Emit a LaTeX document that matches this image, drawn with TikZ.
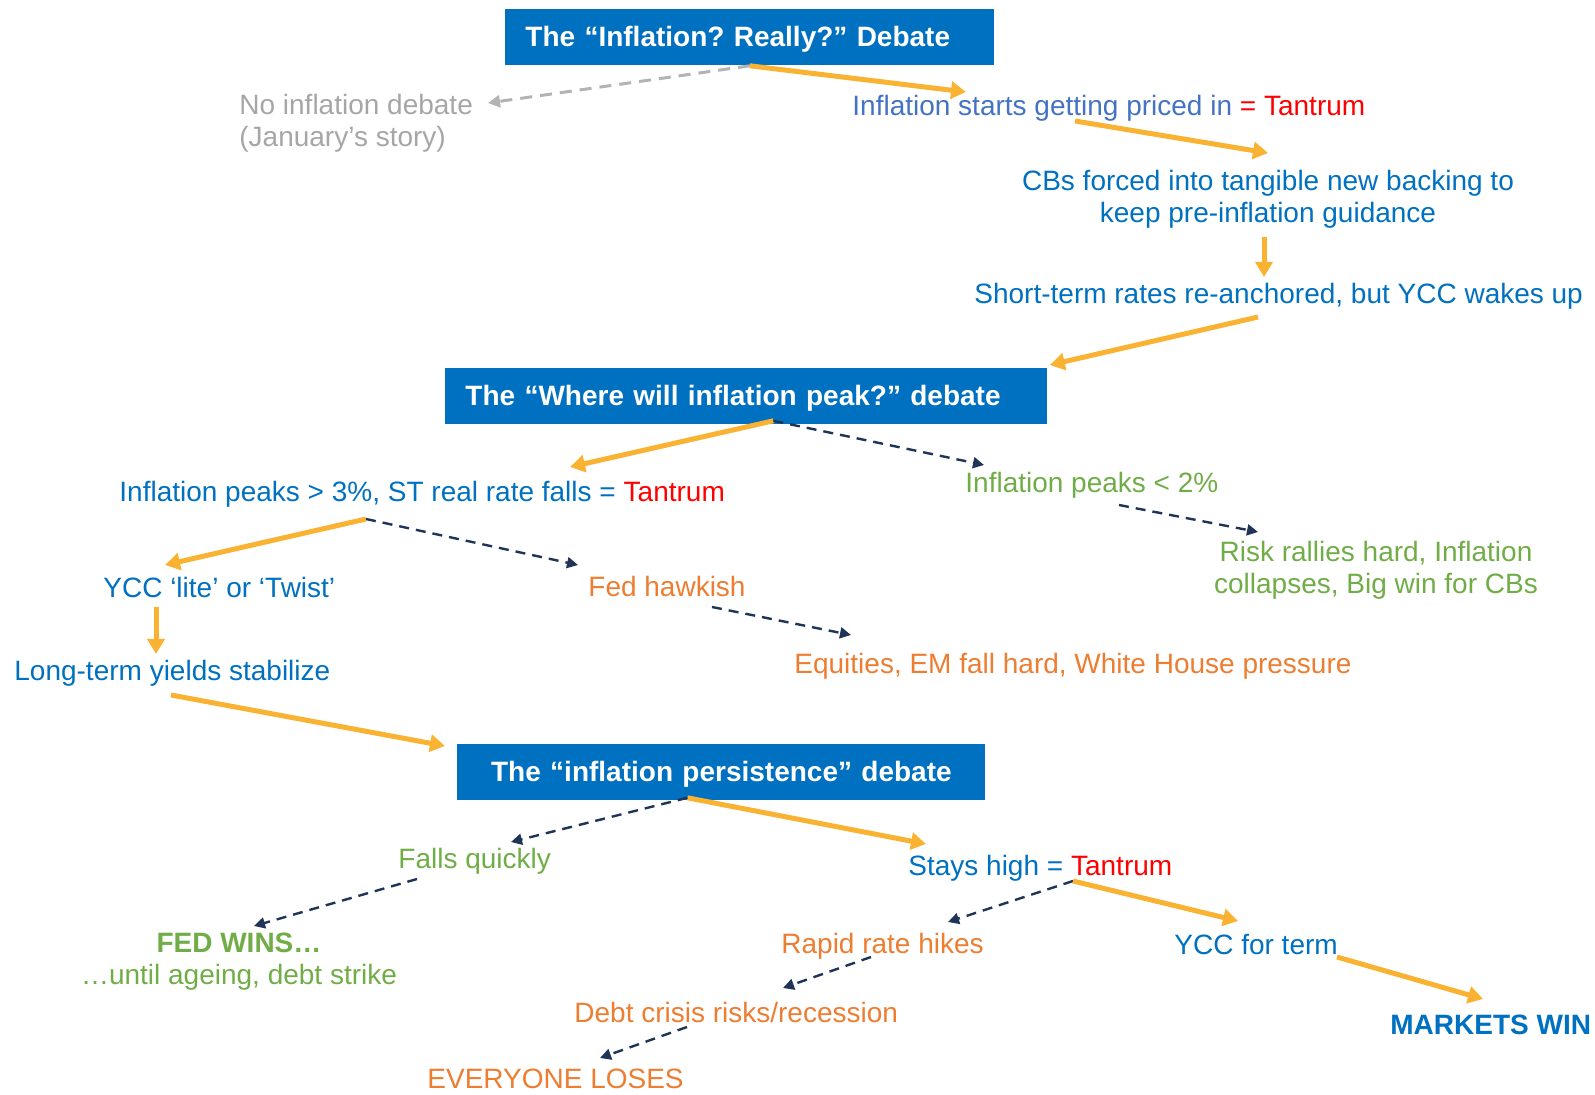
\documentclass[tikz,border=0pt]{standalone}
\usepackage{fontspec}
\setmainfont{Liberation Sans}
\usetikzlibrary{arrows.meta, calc, positioning}
\definecolor{boxblue}{RGB}{0,112,192}
\definecolor{txtblue}{RGB}{0,112,192}
\definecolor{softblue}{RGB}{68,114,196}
\definecolor{tantrumred}{RGB}{255,0,0}
\definecolor{okgreen}{RGB}{112,173,71}
\definecolor{badorange}{RGB}{237,125,49}
\definecolor{oldgray}{RGB}{166,166,166}
\definecolor{gogold}{RGB}{250,178,50}
\definecolor{darknavy}{RGB}{32,52,88}
\newcommand{\tantrum}{\textcolor{tantrumred}{Tantrum}}
\frenchspacing

\begin{document}
\frenchspacing
\begin{tikzpicture}[line join=round, x=0.5pt, y=-0.5pt,
  font=\fontsize{14}{16}\selectfont,
  every node/.style={inner sep=0pt, text=txtblue},
  lbl/.style={anchor=west, text height=13pt, text depth=3pt},
  debate/.style={fill=boxblue, text=white, font=\fontsize{14}{16}\selectfont\bfseries,
    minimum height=28pt, inner xsep=10pt, inner ysep=0pt, align=left, anchor=north west,
    text height=12pt, text depth=2.7pt},
  gohard/.style={draw=gogold, line width=2.5pt, -{Triangle[length=7.5pt,width=8.5pt]}},
  maybe/.style={draw=darknavy, line width=1.2pt, dash pattern=on 5pt off 3.5pt,
    -{Triangle[length=5.5pt,width=5.5pt]}},
  stale/.style={draw=oldgray!85, line width=1.5pt, dash pattern=on 6pt off 4pt,
    -{Triangle[length=6pt,width=6pt]}}]
\useasboundingbox (0,0) rectangle (1595,1095);

% first debate
\node[debate, text width=224.5pt] (box1) at (505,9) {The “Inflation? Really?” Debate};
\node[anchor=west, align=left, text=oldgray] (noinf) at (239,123) {No inflation debate\\(January’s story)};
\node[lbl] (priced) at (852,106) {\textcolor{softblue}{Inflation starts getting priced in} \textcolor{tantrumred}{=} \tantrum};
\node[align=center] (cbs) at (1268,199) {CBs forced into tangible new backing to\\keep pre-inflation guidance};
\node[lbl] (shortterm) at (974,294) {Short-term rates re-anchored, but YCC wakes up};

% second debate
\node[debate, text width=281pt] (box2) at (445,368) {The “Where will inflation peak?” debate};
\node[lbl] (peak3) at (119,492) {Inflation peaks > 3\%, ST real rate falls = \tantrum};
\node[lbl, text=okgreen] (peak2) at (965,483) {Inflation peaks < 2\%};
\node[align=center, text=okgreen] (risk) at (1376,570) {Risk rallies hard, Inflation\\collapses, Big win for CBs};
\node[lbl] (ycc) at (103,588) {YCC ‘lite’ or ‘Twist’};
\node[lbl, text=badorange] (hawk) at (588,587) {Fed hawkish};
\node[lbl, text=badorange] (equit) at (794,664) {Equities, EM fall hard, White House pressure};
\node[lbl] (longterm) at (14,671) {Long-term yields stabilize};

% third debate
\node[debate, text width=244pt, align=center] (box3) at (457,744) {The “inflation persistence” debate};
\node[lbl, text=okgreen] (falls) at (398,858) {Falls quickly};
\node[lbl] (stays) at (908,865) {Stays high = \tantrum};
\node[align=center, text=okgreen] (fedwins) at (239,962) {\textbf{FED WINS…}\\…until ageing, debt strike};
\node[lbl, text=badorange] (rapid) at (781,943) {Rapid rate hikes};
\node[lbl] (yccterm) at (1174,944) {YCC for term};
\node[lbl, text=badorange] (debt) at (574,1012) {Debt crisis risks/recession};
\node[lbl, text=badorange] (everyone) at (427,1078) {EVERYONE LOSES};
\node[lbl, font=\fontsize{14}{16}\selectfont\bfseries] (markets) at (1390,1024) {MARKETS WIN};

% connectors
\draw[stale] (box1.south) -- ($(noinf.west)+(249,-20)$);
\draw[gohard] (box1.south) -- ($(priced.west)+(114,-14)$);
\draw[gohard] ($(priced.west)+(223,15)$) -- ($(cbs.center)+(0,-46)$);
\draw[gohard] ($(cbs.center)+(-4,38)$) -- ($(shortterm.west)+(290,-17)$);
\draw[gohard] ($(shortterm.west)+(284,23)$) -- ($(box2.north east)+(2,-3)$);

\draw[gohard] ($(box2.south)+(27,-4)$) -- ($(peak3.west)+(451,-25)$);
\draw[maybe] ($(box2.south)+(27,-4)$) -- ($(peak2.west)+(19,-18)$);
\draw[maybe] ($(peak2.west)+(154,22)$) -- ($(risk.center)+(-118,-38)$);
\draw[gohard] ($(peak3.west)+(247,27)$) -- ($(ycc.west)+(62,-23)$);
\draw[maybe] ($(peak3.west)+(247,27)$) -- ($(hawk.west)+(-10,-22)$);
\draw[gohard] ($(ycc.west)+(53,19)$) -- ($(longterm.west)+(142,-17)$);
\draw[maybe] ($(hawk.west)+(124,20)$) -- ($(equit.west)+(57,-29)$);
\draw[gohard] ($(longterm.west)+(157,24)$) -- ($(box3.north west)+(-12,2)$);

\draw[gohard] ($(box3.south)+(-34,-3)$) -- ($(stays.west)+(18,-21)$);
\draw[maybe] ($(box3.south)+(-34,-3)$) -- ($(falls.west)+(113,-16)$);
\draw[maybe] ($(falls.west)+(19,21)$) -- ($(fedwins.center)+(15,-36)$);
\draw[maybe] ($(stays.west)+(165,16)$) -- ($(rapid.west)+(167,-21)$);
\draw[gohard] ($(stays.west)+(165,16)$) -- ($(yccterm.west)+(64,-23)$);
\draw[maybe] ($(rapid.west)+(90,14)$) -- ($(debt.west)+(209,-24)$);
\draw[gohard] ($(yccterm.west)+(163,13)$) -- ($(markets.west)+(93,-25)$);
\draw[maybe] ($(debt.west)+(113,15)$) -- ($(everyone.west)+(173,-20)$);
\end{tikzpicture}
\end{document}
